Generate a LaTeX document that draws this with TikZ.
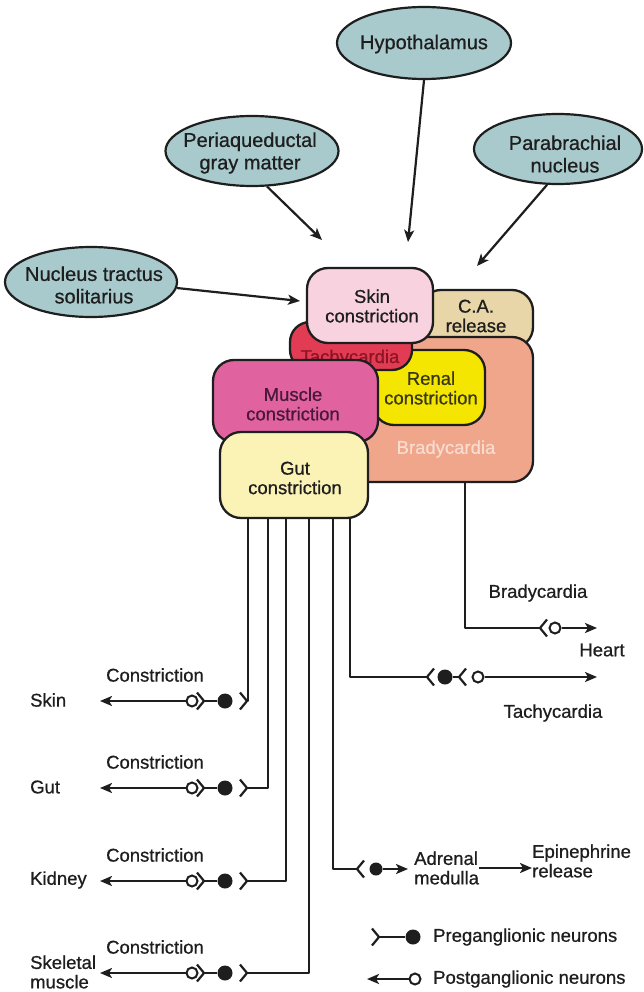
\documentclass[tikz,border=0pt]{standalone}
\usepackage{fontspec}
\setmainfont{Liberation Sans}[FakeBold=0.7]
\usetikzlibrary{shapes.geometric,arrows.meta}

\definecolor{regionfill}{HTML}{A9CACD}
\definecolor{skinfill}{HTML}{F8D2DE}
\definecolor{cafill}{HTML}{E8D5A8}
\definecolor{bradyfill}{HTML}{F0A68A}
\definecolor{bradytext}{HTML}{F8DCD0}
\definecolor{tachyfill}{HTML}{E23C55}
\definecolor{tachytext}{HTML}{8C1424}
\definecolor{renalfill}{HTML}{F4E600}
\definecolor{renaltext}{HTML}{3A3812}
\definecolor{musclefill}{HTML}{E0639F}
\definecolor{muscletext}{HTML}{4A1838}
\definecolor{gutfill}{HTML}{FBF3B6}
\definecolor{ink}{HTML}{1E1E1E}

\newcommand{\lblfont}{\fontsize{18.5}{19.5}\selectfont}
\newcommand{\regionfont}{\fontsize{20}{22.5}\selectfont}
% synaptic fork: apex at coordinate #1, arms opening to the left / right
\newcommand{\forkleft}[1]{\draw[nerve] ([shift={(-7,-8.5)}]#1) -- (#1) -- ([shift={(-7,8.5)}]#1);}
\newcommand{\forkright}[1]{\draw[nerve] ([shift={(7,-8.5)}]#1) -- (#1) -- ([shift={(7,8.5)}]#1);}

\tikzset{
  region/.style={ellipse, draw=ink, line width=2.2pt, fill=regionfill, inner sep=0pt},
  regiontext/.style={font=\regionfont, align=center, inner sep=0pt, text=ink},
  cellbox/.style={draw=ink, line width=2.3pt, rounded corners=21pt, inner sep=0pt},
  boxtext/.style={font=\lblfont, align=center, inner sep=0pt},
  lbl/.style={font=\lblfont, inner sep=0pt, text=ink},
  nerve/.style={line width=2.2pt, draw=ink, line join=round},
  tip/.style={-{Stealth[length=12pt,width=10pt,inset=3pt]}},
  soma/.style={circle, fill=ink, minimum size=15pt, inner sep=0pt},
  osoma/.style={circle, draw=ink, line width=2pt, fill=white, minimum size=11pt, inner sep=0pt},
}

\begin{document}
\begin{tikzpicture}[x=1pt,y=-1pt]
\useasboundingbox[fill=white] (0,0) rectangle (644,992);

% brain regions
\node[region, minimum width=174pt, minimum height=72pt] (hyp) at (424,43) {};
\node[regiontext] (hyptxt) at (424,44) {Hypothalamus};
\node[region, minimum width=173pt, minimum height=70pt] (pag) at (252,151) {};
\node[regiontext] (pagtxt) at (250,153) {Periaqueductal\\gray matter};
\node[region, minimum width=168pt, minimum height=70pt] (pbn) at (558,149) {};
\node[regiontext] (pbntxt) at (565,154) {Parabrachial\\nucleus};
\node[region, minimum width=172pt, minimum height=70pt] (nts) at (91,282) {};
\node[regiontext] (ntstxt) at (94,285) {Nucleus tractus\\solitarius};

\coordinate (hypend) at (408,242);
\coordinate (pagend) at (322,240);
\coordinate (pbnend) at (477,266);
\coordinate (ntsend) at (300,301);
\draw[nerve, tip] (hyp.south) -- (hypend);
\draw[nerve, tip] (pag.-67) -- (pagend);
\draw[nerve, tip] (pbn.-107) -- (pbnend);
\draw[nerve, tip] (nts.-4) -- (ntsend);

% overlapping output columns
\node[cellbox, fill=cafill, minimum width=113pt, minimum height=58pt] (ca) at (476.5,319) {};
\node[boxtext, text=ink] (catext) at (476,316) {C.A.\\release};
\node[cellbox, fill=bradyfill, minimum width=193pt, minimum height=145pt] (brady) at (436.5,409.5) {};
\node[boxtext, text=bradytext] (bradytxt) at (446,449) {Bradycardia};
\node[cellbox, fill=renalfill, minimum width=112pt, minimum height=75pt] (renal) at (429,387.5) {};
\node[boxtext, text=renaltext] (renaltxt) at (431,388) {Renal\\constriction};
\node[cellbox, fill=tachyfill, rounded corners=20pt, minimum width=122pt, minimum height=48pt] (tachy) at (351,346) {};
\node[boxtext, text=tachytext, anchor=base] (tachytxt) at (350,363) {Tachycardia};
\node[cellbox, fill=skinfill, minimum width=126pt, minimum height=75pt] (skin) at (370,305.5) {};
\node[boxtext, text=ink] (skintxt) at (372,306) {Skin\\constriction};
\node[cellbox, fill=musclefill, minimum width=165pt, minimum height=82pt] (muscle) at (295.5,401) {};
\node[boxtext, text=muscletext] (muscletxt) at (293,404) {Muscle\\constriction};
\node[cellbox, fill=gutfill, minimum width=148pt, minimum height=86pt] (gut) at (294,475) {};
\node[boxtext, text=ink] (guttxt) at (295,478) {Gut\\constriction};

% sympathetic outflow to the left-hand targets
\foreach \n/\yy/\cx/\organ in {skin/701/248/Skin, gut/788/268/Gut, kid/881/286/Kidney, musc/973/309/{Skeletal\\muscle}}{
  \node[osoma] (post\n) at (192,\yy) {};
  \node[soma] (pre\n) at (225,\yy) {};
  \coordinate (syn\n) at (204,\yy);
  \coordinate (term\n) at (247,\yy);
  \coordinate (corner\n) at (\cx,\yy);
  \coordinate (target\n) at (100,\yy);
  \node[lbl, anchor=west, align=left] (organ\n) at (30,\yy-1) {\organ};
  \node[lbl] (con\n) at (155,\yy-26) {Constriction};
  \draw[nerve, tip] (post\n) -- (target\n);
  \draw[nerve] (pre\n) -- (syn\n);
  \forkleft{syn\n}
  \forkleft{term\n}
  \draw[nerve] (term\n) -- (corner\n) -- (corner\n |- gut.south);
}

% adrenal medulla
\coordinate (adrcorner) at (333,869);
\coordinate (adrfork) at (357,869);
\node[soma, minimum size=13pt] (adrsoma) at (376,869) {};
\node[lbl, anchor=west, align=left] (adr) at (414,868) {Adrenal\\medulla};
\node[lbl, anchor=west, align=left] (epi) at (532,861) {Epinephrine\\release};
\coordinate (adrend) at (408,869);
\draw[nerve] (adrfork) -- (adrcorner) -- (adrcorner |- gut.south);
\forkright{adrfork}
\draw[nerve, tip] (adrsoma) -- (adrend);
\draw[nerve, tip] (adr.east) -- (adr.east -| epi.west);

% sympathetic pathway to the heart
\coordinate (tachycorner) at (350,677);
\coordinate (tachyfork) at (427,677);
\node[soma] (tachypre) at (445,677) {};
\coordinate (tachysyn) at (459,677);
\node[osoma] (tachypost) at (478,677) {};
\coordinate (tachyend) at (597,677);
\draw[nerve] (tachyfork) -- (tachycorner) -- (tachycorner |- gut.south);
\forkright{tachyfork}
\draw[nerve] (tachypre) -- (tachysyn);
\forkright{tachysyn}
\draw[nerve, tip] (tachypost) -- (tachyend);
\node[lbl] (tachylbl) at (553,713) {Tachycardia};

% vagal pathway to the heart
\coordinate (bradycorner) at (465,628);
\coordinate (bradyfork) at (540,628);
\node[osoma] (bradypost) at (555,628) {};
\coordinate (bradyend) at (597,628);
\draw[nerve] (bradyfork) -- (bradycorner) -- (bradycorner |- brady.south);
\forkright{bradyfork}
\draw[nerve, tip] (bradypost) -- (bradyend);
\node[lbl] (bradylbl) at (538,593) {Bradycardia};
\node[lbl] (heart) at (602,650) {Heart};

% key
\coordinate (keyfork) at (379,937);
\node[soma] (keysoma) at (413,937) {};
\draw[nerve] (keyfork) -- (keysoma);
\forkleft{keyfork}
\node[lbl, anchor=west] (keypre) at (433,937) {Preganglionic neurons};
\node[osoma] (keyosoma) at (415,979) {};
\coordinate (keyend) at (367,979);
\draw[nerve, tip] (keyosoma) -- (keyend);
\node[lbl, anchor=west] (keypost) at (433,979) {Postganglionic neurons};
\end{tikzpicture}
\end{document}
